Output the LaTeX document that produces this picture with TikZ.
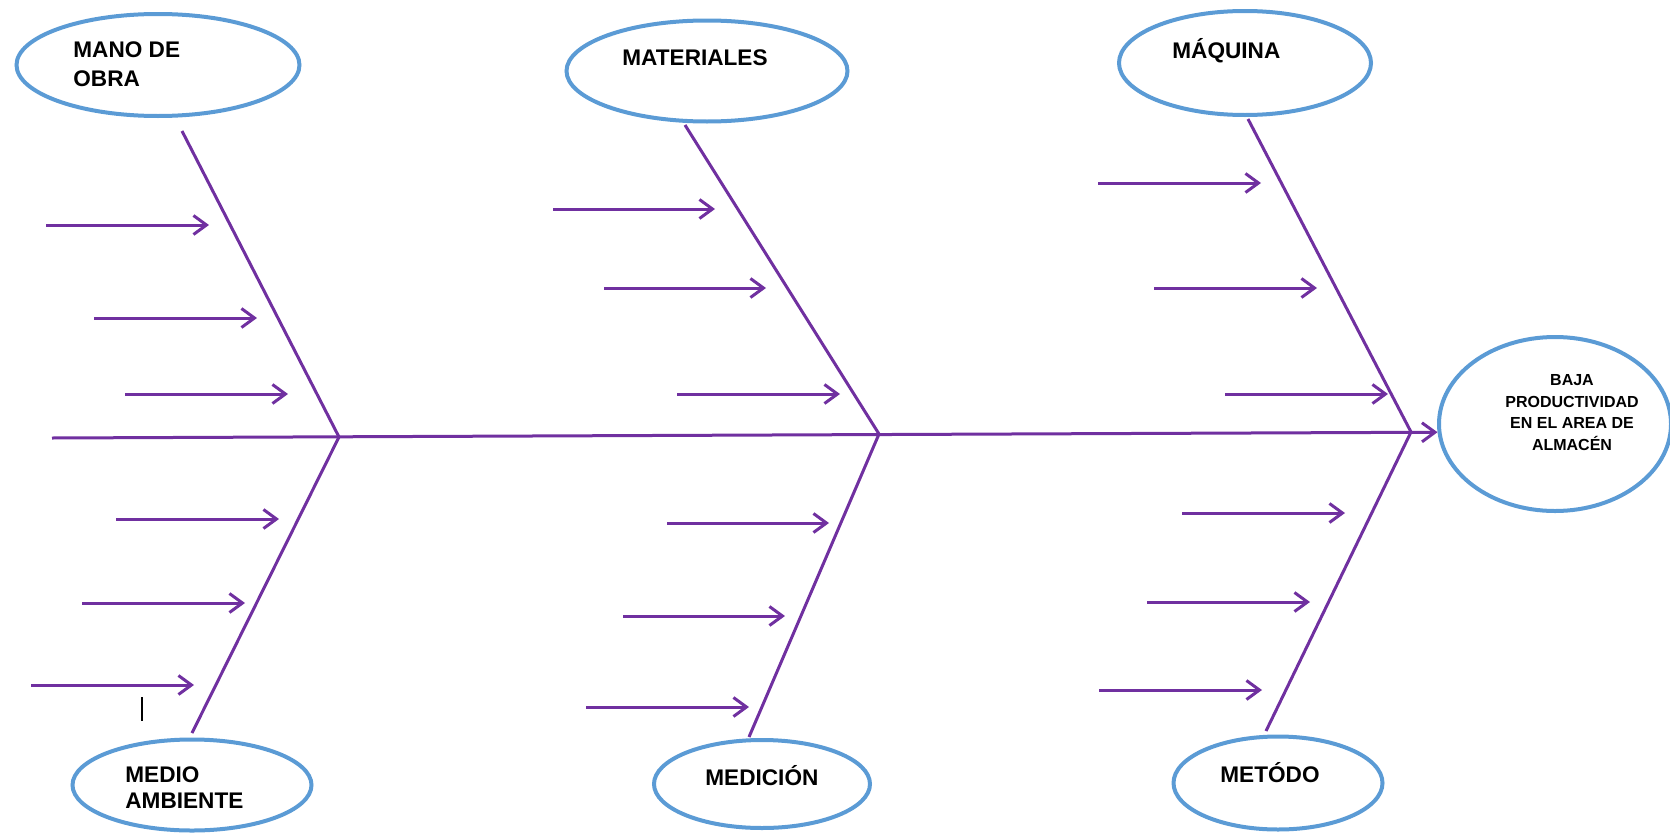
\documentclass[tikz,border=0pt]{standalone}
\usepackage{fontspec}
\setmainfont{Liberation Sans}
\usetikzlibrary{shapes.geometric,arrows.meta}
\definecolor{causeblue}{HTML}{5B9BD5}
\definecolor{bonepurple}{HTML}{7030A0}
\tikzset{
  cause/.style={ellipse,draw=causeblue,line width=2pt,inner sep=0pt},
  causetext/.style={font=\bfseries\fontsize{11.3}{14.5}\selectfont,inner sep=0pt,anchor=base west,align=left},
  bone/.style={draw=bonepurple,line width=1.5pt},
  sub/.style={bone,-{Straight Barb[length=6.5pt,width=9.5pt]}},
}
\begin{document}
\begin{tikzpicture}[x=0.5pt,y=-0.5pt]
        \useasboundingbox (0,0) rectangle (1670,835);
        % causes
        \node[cause,minimum width=141.5pt,minimum height=51pt] (mano) at (158,65) {};
        \node[cause,minimum width=140.5pt,minimum height=50.5pt] (mat) at (707,71) {};
        \node[cause,minimum width=126pt,minimum height=52pt] (maq) at (1245,63) {};
        \node[cause,minimum width=119.5pt,minimum height=45.5pt] (medio) at (192,785) {};
        \node[cause,minimum width=108pt,minimum height=44pt] (medic) at (762,784) {};
        \node[cause,minimum width=104.5pt,minimum height=46.5pt] (metodo) at (1278,783) {};
        \node[cause,minimum width=116pt,minimum height=87pt] (baja) at (1555,424) {};
        % labels (base = last line)
        \node[causetext] (mano-t) at (73,86) {MANO DE\\OBRA};
        \node[causetext] (mat-t) at (622,65) {MATERIALES};
        \node[causetext] (maq-t) at (1172,58) {MÁQUINA};
        \node[causetext,font=\bfseries\fontsize{11.3}{13}\selectfont] (medio-t) at (125,808) {MEDIO\\AMBIENTE};
        \node[causetext] (medic-t) at (705,785) {MEDICIÓN};
        \node[causetext] (metodo-t) at (1220,782) {METÓDO};
        \node[causetext,anchor=base,align=center,font=\bfseries\fontsize{8}{10.75}\selectfont] (baja-t) at (1572,450) {BAJA\\PRODUCTIVIDAD\\EN EL AREA DE\\ALMACÉN};
        % spine and bones
        \coordinate (tail) at (52,438);
        \coordinate (j1) at (339,437);
        \coordinate (j2) at (879,434);
        \coordinate (j3) at (1411,432);
        \coordinate (t1) at (182,131);
        \coordinate (t2) at (685,125);
        \coordinate (t3) at (1248,119);
        \coordinate (d1) at (192,733);
        \coordinate (d2) at (749,737);
        \coordinate (d3) at (1266,731);
        \draw[sub] (tail) -- (baja.184);
        \draw[bone] (t1) -- (j1) -- (d1);
        \draw[bone] (t2) -- (j2) -- (d2);
        \draw[bone] (t3) -- (j3) -- (d3);
        \foreach \xa/\xb/\y [count=\i] in {46/209/225,94/257/318,125/288/394,116/279/519,82/245/603,31/194/685,
            553/715/209,604/766/288,677/840/394,667/829/523,623/785/616,586/749/707,
            1098/1261/183,1154/1317/288,1225/1388/394,1182/1345/513,1147/1310/602,1099/1262/690}{
          \coordinate (s\i) at (\xa,\y);
          \coordinate (e\i) at (\xb,\y);
          \draw[sub] (s\i) -- (e\i);
        }
        \coordinate (c1) at (142,697);
        \coordinate (c2) at (142,721);
        \draw[line width=1pt] (c1) -- (c2);
      \end{tikzpicture}
\end{document}
